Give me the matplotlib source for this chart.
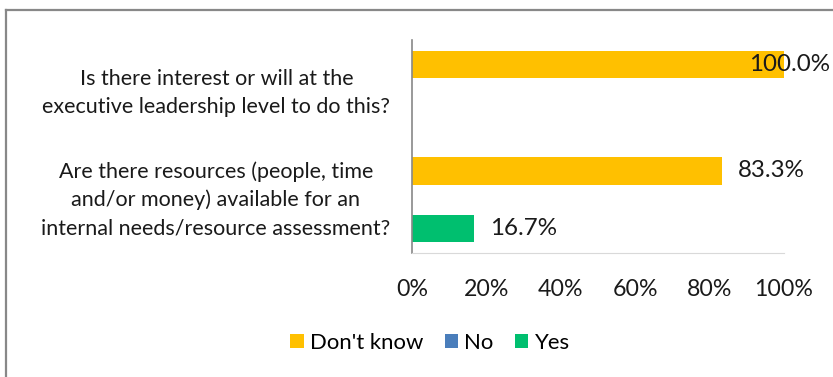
import matplotlib
matplotlib.use("Agg")
import matplotlib.pyplot as plt
from matplotlib.lines import Line2D
from matplotlib.patches import Patch
import numpy as np

plt.rcParams['font.family'] = ['Lato', 'DejaVu Sans']

categories = [
    "Is there interest or will at the\nexecutive leadership level to do this?",
    "Are there resources (people, time\nand/or money) available for an\ninternal needs/resource assessment?",
]
series_names = ["Don't know", "No", "Yes"]
dont_know = [100.0, 83.3]
no = [0.0, 0.0]
yes = [0.0, 16.7]
series_values = [dont_know, no, yes]
colors = ["#FFC000", "#4A7EBB", "#00BF6F"]
xticks = [0, 20, 40, 60, 80, 100]

W, H, DPI = 833, 377, 100
fig = plt.figure(figsize=(W / DPI, H / DPI), dpi=DPI)

# axes placed in pixel units
left, right, top, bottom = 412, 784, 40, 253
ax = fig.add_axes([left / W, 1 - bottom / H, (right - left) / W, (bottom - top) / H])

y = np.arange(len(categories))
step = 0.27
height = 0.262
offsets = [-step, 0.0, step]
for vals, off, col, name in zip(series_values, offsets, colors, series_names):
    ax.barh(y + off, vals, height=height, color=col, label=name)
    for val, yy in zip(vals, y + off):
        if val <= 0:
            continue
        # labels sit just past the bar end; a full-width bar keeps its label inside the chart
        if val >= 99:
            dx, ha = 46, "right"
        else:
            dx, ha = 16, "left"
        ax.annotate(f"{val:.1f}%", xy=(val, yy), xytext=(dx, 0),
                    textcoords="offset pixels", ha=ha, va="center",
                    fontsize=17.4, color="#1a1a1a")

ax.set_xlim(0, 100)
ax.set_ylim(1.5, -0.5)
ax.set_xticks(xticks)
ax.set_xticklabels([f"{t}%" for t in xticks], fontsize=16.7, color="#1a1a1a")
ax.tick_params(axis="x", length=0, pad=19)
ax.set_yticks([])

for s in ("top", "right"):
    ax.spines[s].set_visible(False)
ax.spines["left"].set_color("#888888")
ax.spines["left"].set_linewidth(1.2)
ax.spines["bottom"].set_color("#d9d9d9")
ax.spines["bottom"].set_linewidth(0.8)

# category labels, centred lines, right edge near the axis
for cat, yy in zip(categories, y):
    ax.text(-5.8, yy, cat, transform=ax.transData, ha="right", va="center",
            multialignment="center", fontsize=15.5, color="#1a1a1a",
            linespacing=1.48)

handles = [Patch(facecolor=c, edgecolor="none") for c in colors]
fig.legend(handles, series_names, loc="center", bbox_to_anchor=(430 / W, 1 - 343 / H),
           ncol=3, frameon=False, fontsize=15.9, handlelength=0.6, handleheight=0.6,
           handletextpad=0.3, columnspacing=0.95)

# outer chart border (top and left edges)
frame_col = "#888888"
fig.add_artist(Line2D([6 / W, 1.0], [1 - 10 / H, 1 - 10 / H], color=frame_col, lw=1.6,
                      transform=fig.transFigure))
fig.add_artist(Line2D([6 / W, 6 / W], [0.0, 1 - 10 / H], color=frame_col, lw=1.6,
                      transform=fig.transFigure))

fig.savefig("out.png", dpi=DPI)
